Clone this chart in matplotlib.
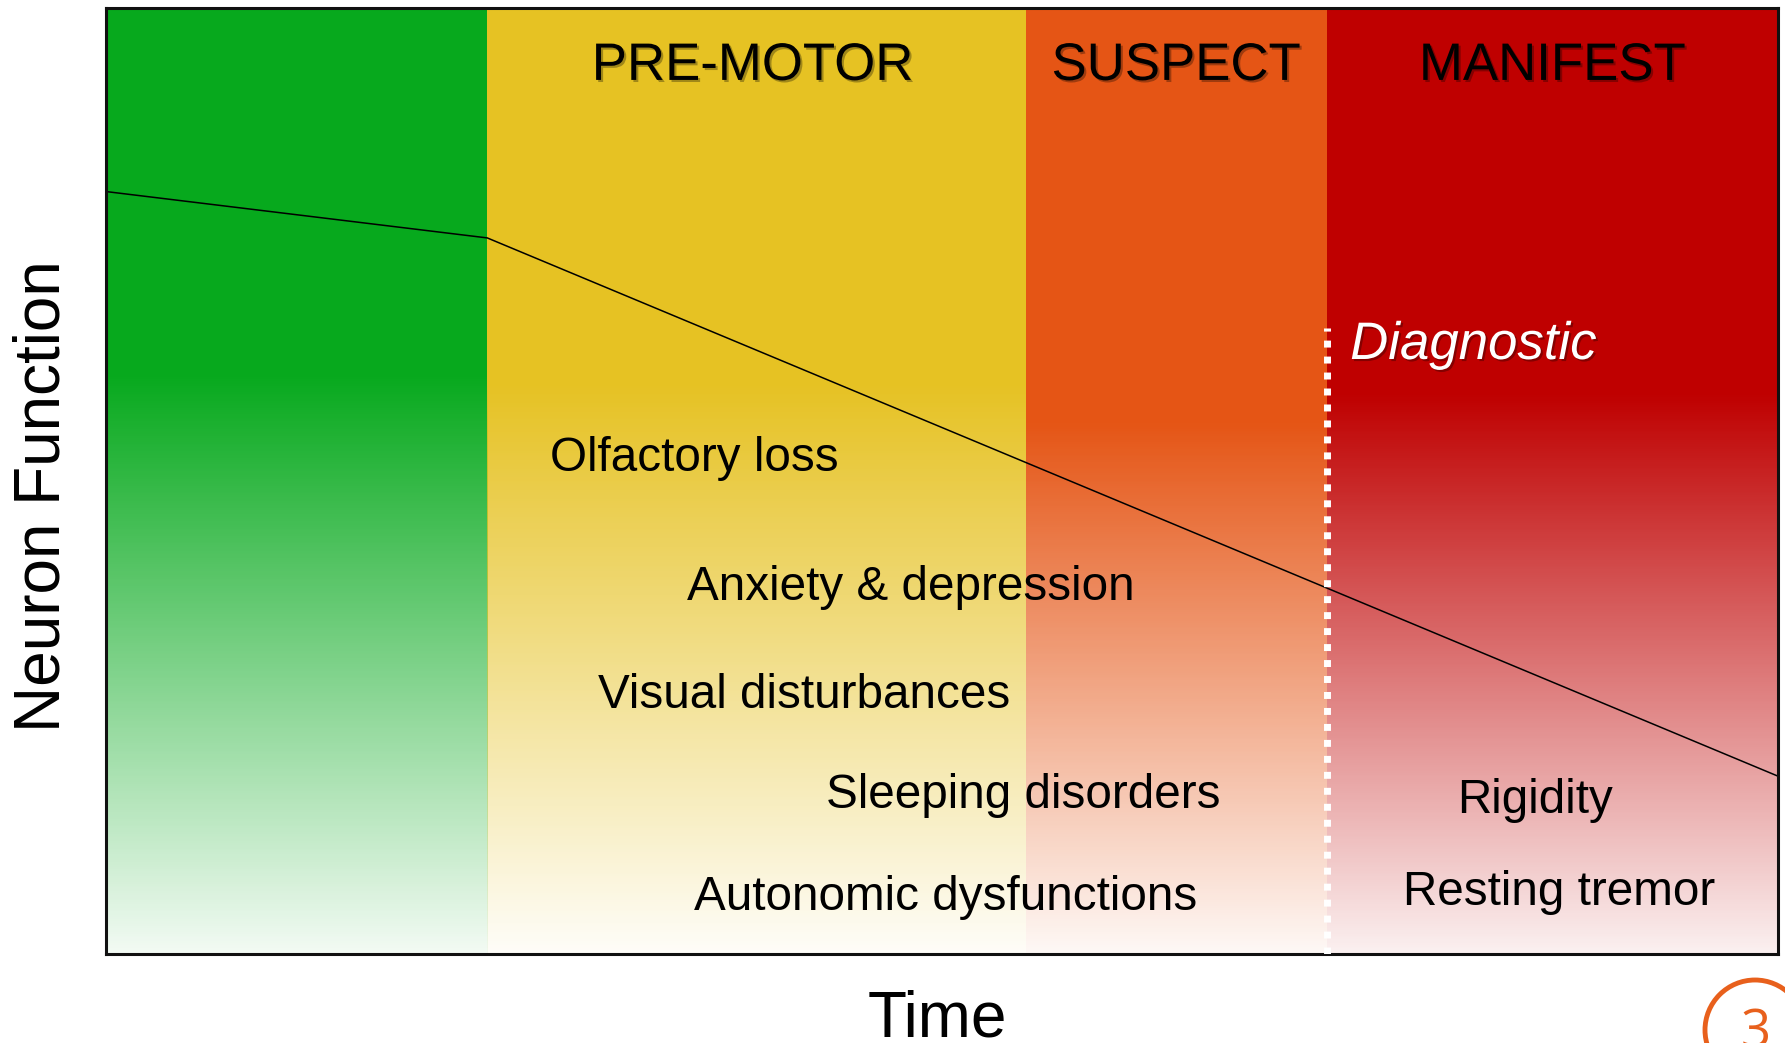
import matplotlib
matplotlib.use("Agg")
import matplotlib.pyplot as plt
import matplotlib.patheffects as pe
from matplotlib.colors import to_rgb
from matplotlib.patches import Circle
import numpy as np

plt.rcParams['font.family'] = ['Liberation Sans', 'DejaVu Sans']

# Stages along the time axis (0..10)
stage_names = ["", "PRE-MOTOR", "SUSPECT", "MANIFEST"]
stage_edges = [0.0, 2.28, 5.50, 7.30, 10.0]
stage_colors = ["#07A91D", "#E6C223", "#E55515", "#BF0000"]
stage_solid_from = [0.61, 0.60, 0.56, 0.59]
stage_bottom_alpha = [0.05, 0.03, 0.04, 0.06]

# Neuron function curve
line_x = [0.0, 2.28, 10.0]
line_y = [0.806, 0.757, 0.188]

# Diagnostic threshold
diag_x = 7.30
diag_top = 0.662

# Symptoms: label, onset time, level
symptom_labels = ["Olfactory loss", "Anxiety & depression", "Visual disturbances",
                  "Sleeping disorders", "Autonomic dysfunctions",
                  "Rigidity", "Resting tremor"]
symptom_x = [2.655, 3.472, 2.941, 4.309, 3.519, 8.080, 7.754]
symptom_y = [0.511, 0.374, 0.260, 0.154, 0.047, 0.149, 0.052]

fig = plt.figure(figsize=(17.85, 10.43), dpi=100)
ax = fig.add_axes([0.0594, 0.0853, 0.9367, 0.907])

# gradient bands
n = 512
yy = np.linspace(0, 1, n)
for i in range(len(stage_colors)):
    s = stage_solid_from[i]
    b = stage_bottom_alpha[i]
    alpha = np.where(yy >= s, 1.0, b + (1 - b) * yy / s)
    rgba = np.zeros((n, 1, 4))
    rgba[..., :3] = to_rgb(stage_colors[i])
    rgba[:, 0, 3] = alpha
    ax.imshow(rgba, extent=(stage_edges[i], stage_edges[i + 1], 0, 1),
              origin='lower', aspect='auto', interpolation='nearest', zorder=0)

ax.plot(line_x, line_y, color='black', lw=1.1, zorder=2)
ax.plot([diag_x, diag_x], [0, diag_top], color='white', lw=5,
        linestyle=(0, (1.0, 1.3)), zorder=3)

shadow = [pe.withSimplePatchShadow(offset=(1.5, -1.5), shadow_rgbFace='black', alpha=0.3)]

for i in range(1, len(stage_names)):
    xc = (stage_edges[i] + stage_edges[i + 1]) / 2
    if i == 1:
        xc = 3.867
    ax.text(xc, 0.924, stage_names[i], fontsize=38, ha='center', va='baseline',
            color='black', path_effects=shadow, zorder=4)

ax.text(7.441, 0.629, "Diagnostic", fontsize=38, style='italic', color='white',
        ha='left', va='baseline', path_effects=shadow, zorder=4)

for lab, sx, sy in zip(symptom_labels, symptom_x, symptom_y):
    ax.text(sx, sy, lab, fontsize=34.3, ha='left', va='baseline', color='black', zorder=4)

ax.set_xlim(0, 10)
ax.set_ylim(0, 1)
ax.set_xticks([])
ax.set_yticks([])
for sp in ax.spines.values():
    sp.set_linewidth(2.2)
    sp.set_color('#111111')

fig.text(0.0335, 0.5245, "Neuron Function", fontsize=46, rotation=90,
         rotation_mode='anchor', ha='center', va='baseline')
fig.text(0.5249, 0.006, "Time", fontsize=46, ha='center', va='baseline')

# slide number badge
orange = "#E8601C"
fig.add_artist(Circle((17.55, 0.13), 0.50, transform=fig.dpi_scale_trans,
                      fill=False, edgecolor=orange, lw=3.5))
fig.text(1756 / 1785, 1 - 1048 / 1043, "3", fontsize=38, color=orange,
         family='Open Sans', ha='center', va='baseline')

fig.savefig("out.png", dpi=100)
